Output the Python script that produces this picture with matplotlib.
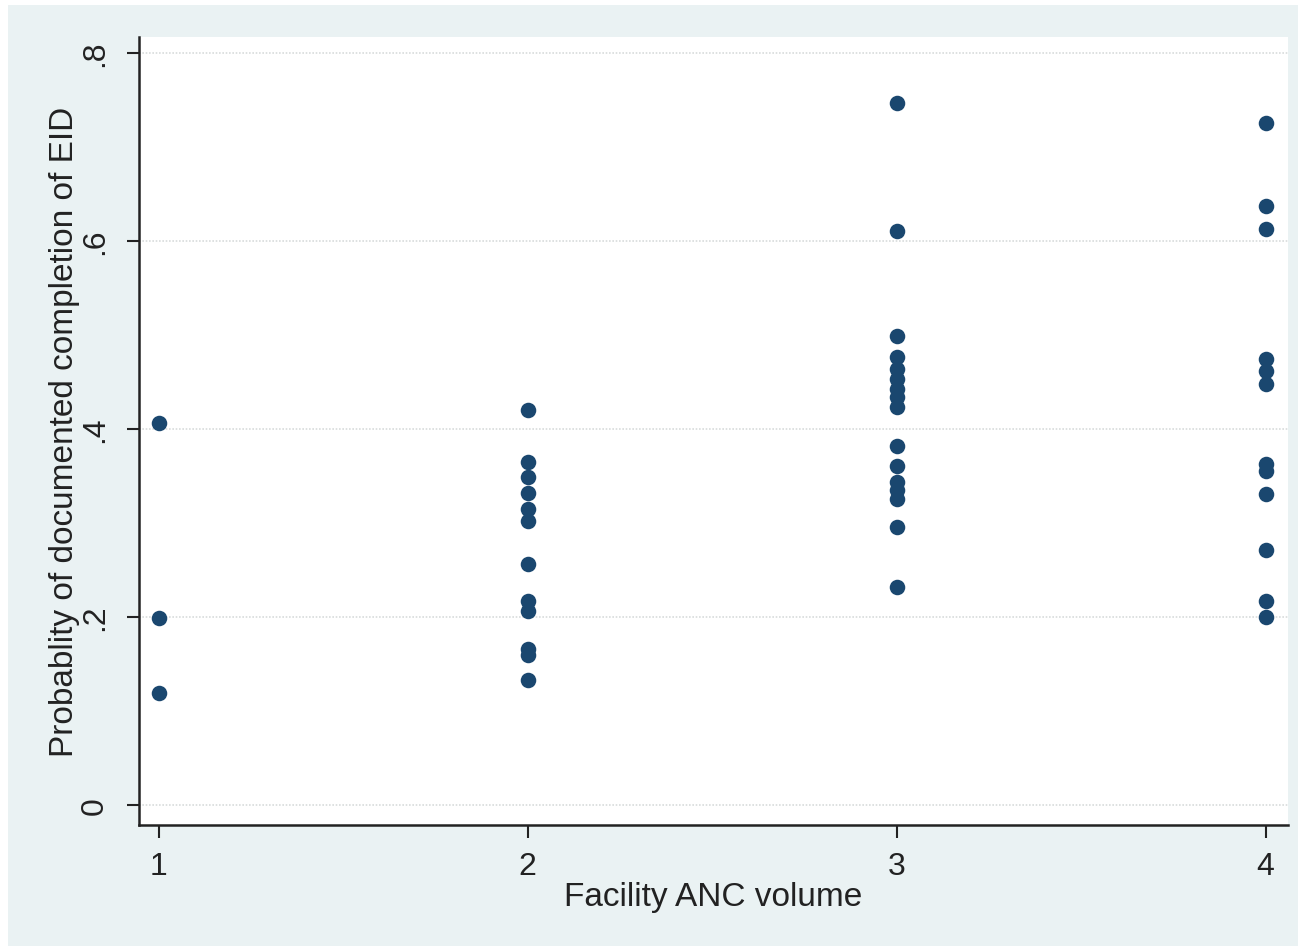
import numpy as np
import matplotlib.pyplot as plt
from matplotlib.patches import Rectangle

# facility ANC volume groups and the probabilities
vol1 = [0.406, 0.199, 0.119]
vol2 = [0.420, 0.365, 0.349, 0.332, 0.315, 0.302, 0.256, 0.217, 0.206, 0.166, 0.160, 0.133]
vol3 = [0.747, 0.611, 0.499, 0.477, 0.464, 0.453, 0.443, 0.434, 0.423,
        0.382, 0.361, 0.344, 0.335, 0.326, 0.296, 0.232]
vol4 = [0.726, 0.637, 0.613, 0.474, 0.462, 0.448, 0.363, 0.355, 0.331, 0.271, 0.217, 0.200]

groups = [1, 2, 3, 4]
yticks = [0, 0.2, 0.4, 0.6, 0.8]
ylabels = ["0", ".2", ".4", ".6", ".8"]

plt.rcParams["font.family"] = ["Liberation Sans", "DejaVu Sans"]

fig = plt.figure(figsize=(13.06, 9.53), dpi=100, facecolor="white")
fig.patches.append(Rectangle((0.006, 0.006), 0.988, 0.988, transform=fig.transFigure,
                             facecolor="#eaf2f3", edgecolor="none", zorder=-10))
ax = fig.add_axes([0.1064, 0.1333, 0.8796, 0.8267])
ax.set_facecolor("white")

for g, vals in zip(groups, [vol1, vol2, vol3, vol4]):
    ax.scatter([g] * len(vals), vals, s=125, color="#1a476f", zorder=3, linewidths=0)

ax.set_xlim(0.946, 4.06)
ax.set_ylim(-0.0213, 0.817)
ax.set_xticks(groups)
ax.set_yticks(yticks)
ax.set_yticklabels(ylabels, rotation=90, va="center")
ax.tick_params(axis="both", labelsize=23, length=9, width=1.5, color="#222222")
ax.tick_params(axis="x", pad=10)
ax.tick_params(axis="y", pad=12)
for lab in ax.get_xticklabels() + ax.get_yticklabels():
    lab.set_color("#222222")

ax.grid(axis="y", color="#d8dcdc", linestyle=(0, (1, 1)), linewidth=1.2, zorder=0)

for side in ["top", "right"]:
    ax.spines[side].set_visible(False)
for side in ["left", "bottom"]:
    ax.spines[side].set_linewidth(1.8)
    ax.spines[side].set_color("#222222")

ax.set_xlabel("Facility ANC volume", fontsize=24, color="#222222", labelpad=0)
ax.set_ylabel("Probablity of documented completion of EID", fontsize=24,
              color="#222222", labelpad=0)

fig.savefig("out.png", dpi=100)
